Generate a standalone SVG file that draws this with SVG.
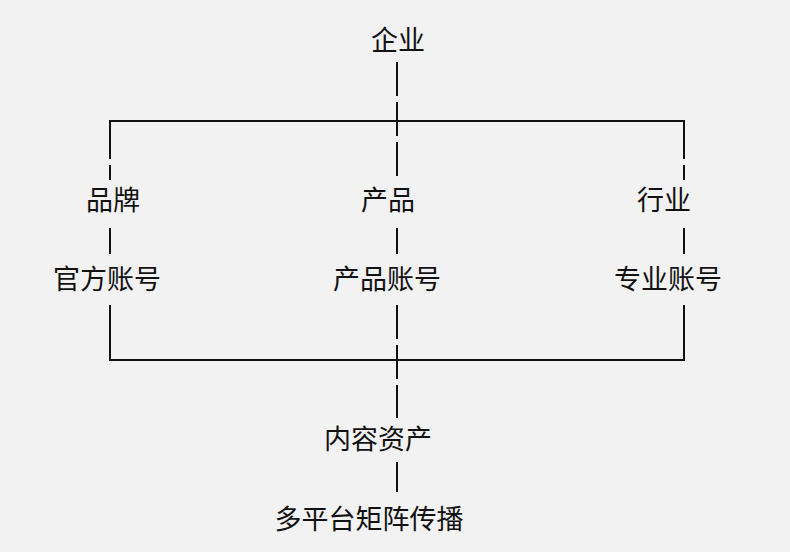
<svg xmlns="http://www.w3.org/2000/svg" width="790" height="552" viewBox="0 0 790 552">
<style>
text{font-family:"Noto Sans CJK SC","Noto Sans",sans-serif;font-size:27px;fill:#111;text-anchor:middle}
.c line,.c path{stroke:#111;stroke-width:2;fill:none}
.d{stroke-dasharray:34 6}
</style>
<rect width="790" height="552" fill="#f2f2f2"/>
<g class="c" id="connectors">
<line class="d" x1="397" y1="62" x2="397" y2="180"/>
<path d="M110 150V121H684V150"/>
<path d="M110 332V360H684V332"/>
<line class="d" x1="110" y1="125" x2="110" y2="180"/>
<line class="d" x1="684" y1="125" x2="684" y2="180"/>
<line x1="110" y1="228" x2="110" y2="254"/>
<line x1="397" y1="228" x2="397" y2="254"/>
<line x1="684" y1="228" x2="684" y2="254"/>
<line x1="110" y1="305" x2="110" y2="360"/>
<line x1="684" y1="305" x2="684" y2="360"/>
<line class="d" x1="397" y1="305" x2="397" y2="418"/>
<line x1="397" y1="462" x2="397" y2="492"/>
</g>
<g id="n-qiye"><text x="398" y="50">企业</text></g>
<g id="n-pinpai"><text x="113" y="210">品牌</text></g>
<g id="n-chanpin"><text x="388" y="210">产品</text></g>
<g id="n-hangye"><text x="664" y="210">行业</text></g>
<g id="n-guanfang"><text x="107" y="289">官方账号</text></g>
<g id="n-chanpinzh"><text x="387" y="289">产品账号</text></g>
<g id="n-zhuanye"><text x="668" y="289">专业账号</text></g>
<g id="n-neirong"><text x="378" y="449">内容资产</text></g>
<g id="n-duopingtai"><text x="369" y="529">多平台矩阵传播</text></g>
</svg>
